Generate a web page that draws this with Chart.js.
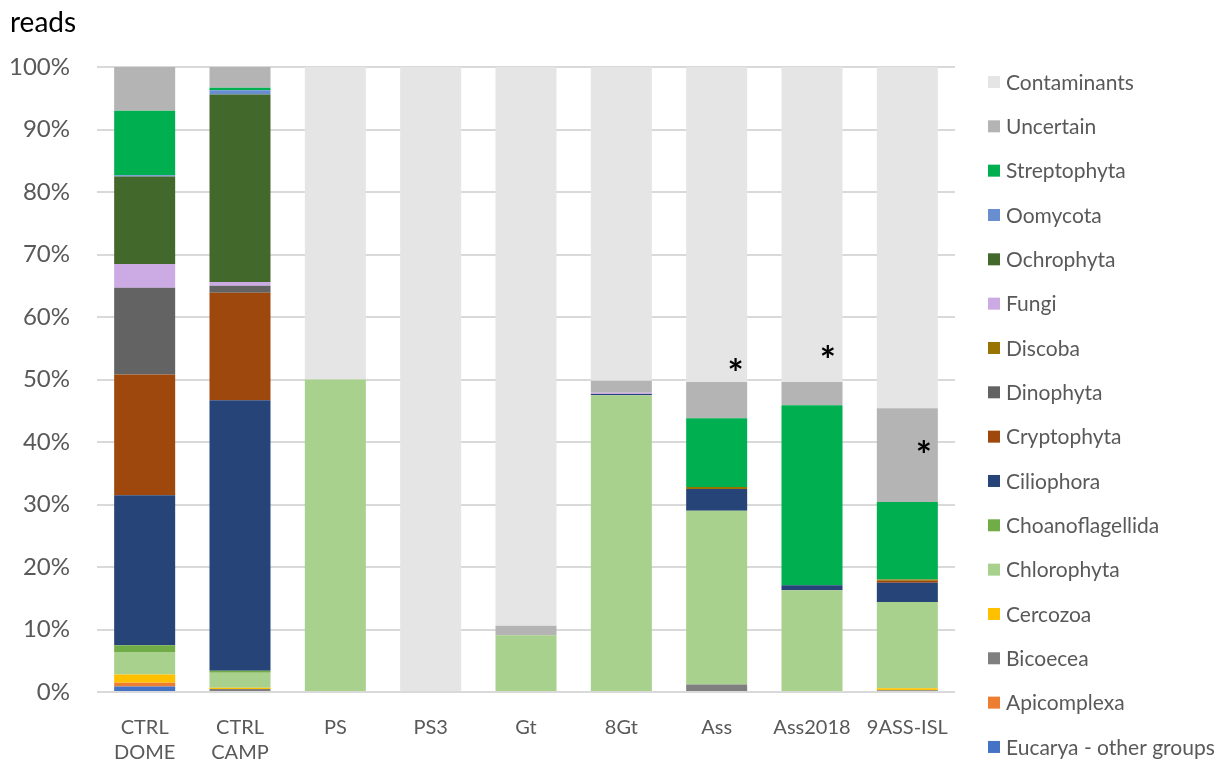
<!DOCTYPE html>
<html>
<head>
<meta charset="utf-8">
<script src="https://cdn.jsdelivr.net/npm/chart.js@4.4.1/dist/chart.umd.min.js"></script>
<style>
  html, body { margin: 0; padding: 0; background: #fff; }
  #wrap { width: 1223px; height: 765px; position: relative; }
</style>
</head>
<body>
<div id="wrap"><canvas id="reads"></canvas></div>
<script>
// Samples along the x axis
const samples = [['CTRL', 'DOME'], ['CTRL', 'CAMP'], 'PS', 'PS3', 'Gt', '8Gt', 'Ass', 'Ass2018', '9ASS-ISL'];

// Share of reads (%) per group, bottom of the stack first
const eucarya      = [0.9, 0,    0,  0,   0,    0,    0,    0,    0];
const apicomplexa  = [0.6, 0,    0,  0,   0,    0,    0,    0,    0];
const bicoecea     = [0,   0.5,  0,  0,   0,    0,    1.2,  0,    0.3];
const cercozoa     = [1.3, 0.2,  0,  0,   0,    0,    0,    0,    0.3];
const chlorophyta  = [3.6, 2.4,  50, 0,   9.1,  47.5, 27.8, 16.3, 13.8];
const choano       = [1.1, 0.3,  0,  0,   0,    0,    0,    0,    0];
const ciliophora   = [24.0, 43.3, 0, 0,   0,    0.2,  3.5,  0.8,  3.1];
const cryptophyta  = [19.3, 17.2, 0, 0,   0,    0,    0,    0,    0.3];
const dinophyta    = [13.9, 1.1, 0,  0,   0,    0,    0,    0,    0];
const discoba      = [0,   0,    0,  0,   0,    0,    0.3,  0,    0.2];
const fungi        = [3.8, 0.6,  0,  0,   0,    0.2,  0,    0,    0];
const ochrophyta   = [14.0, 30.0, 0, 0,   0,    0,    0,    0,    0];
const oomycota     = [0.2, 0.7,  0,  0,   0,    0,    0,    0,    0];
const streptophyta = [10.3, 0.4, 0,  0,   0,    0,    11.0, 28.8, 12.4];
const uncertain    = [7.0, 3.3,  0,  0,   1.5,  1.9,  5.8,  3.7,  15.0];
const contaminants = [0,   0,    50, 100, 89.4, 50.2, 50.4, 50.4, 54.6];

// Asterisk notes: sample index, height in %, horizontal shift as a share of bar width
const stars = [
  { index: 6, value: 52.5, shift: 0.31 },
  { index: 7, value: 54.6, shift: 0.26 },
  { index: 8, value: 39.4, shift: 0.27 }
];

const groups = [
  ['Eucarya - other groups', eucarya, '#4472C4'],
  ['Apicomplexa', apicomplexa, '#ED7D31'],
  ['Bicoecea', bicoecea, '#7F7F7F'],
  ['Cercozoa', cercozoa, '#FFC000'],
  ['Chlorophyta', chlorophyta, '#A9D18E'],
  ['Choanoflagellida', choano, '#70AD47'],
  ['Ciliophora', ciliophora, '#264478'],
  ['Cryptophyta', cryptophyta, '#9E480E'],
  ['Dinophyta', dinophyta, '#636363'],
  ['Discoba', discoba, '#997300'],
  ['Fungi', fungi, '#CCAAE4'],
  ['Ochrophyta', ochrophyta, '#43682B'],
  ['Oomycota', oomycota, '#698ED0'],
  ['Streptophyta', streptophyta, '#00B050'],
  ['Uncertain', uncertain, '#B4B4B4'],
  ['Contaminants', contaminants, '#E5E5E5']
];

const FONT = 'Lato, "Open Sans", sans-serif';
const TEXT = '#595959';

// legend column on the right: top entry first, evenly spaced
const legendBox = { gap: 33, top: 82, step: 44.33, size: 12, textGap: 6 };

const sideLegend = {
  id: 'sideLegend',
  afterDraw(chart) {
    const ctx = chart.ctx;
    const x = chart.chartArea.right + legendBox.gap;
    const items = chart.data.datasets.slice().reverse();
    ctx.save();
    ctx.font = '21px ' + FONT;
    ctx.textBaseline = 'middle';
    ctx.textAlign = 'left';
    items.forEach((ds, i) => {
      const y = legendBox.top + i * legendBox.step;
      ctx.fillStyle = ds.backgroundColor;
      ctx.fillRect(x, y - legendBox.size / 2, legendBox.size, legendBox.size);
      ctx.fillStyle = TEXT;
      ctx.fillText(ds.label, x + legendBox.size + legendBox.textGap, y + 1);
    });
    ctx.restore();
  }
};

const starPlugin = {
  id: 'stars',
  afterDatasetsDraw(chart) {
    const ctx = chart.ctx;
    const y = chart.scales.y;
    const meta = chart.getDatasetMeta(0);
    ctx.save();
    ctx.fillStyle = '#000';
    ctx.font = 'bold 38px ' + FONT;
    ctx.textAlign = 'center';
    ctx.textBaseline = 'middle';
    stars.forEach(s => {
      const bar = meta.data[s.index];
      ctx.fillText('*', bar.x + s.shift * bar.width, y.getPixelForValue(s.value) + 11);
    });
    ctx.restore();
  }
};

new Chart(document.getElementById('reads'), {
  type: 'bar',
  data: {
    labels: samples,
    datasets: groups.map(([label, data, color]) => ({
      label,
      data,
      backgroundColor: color,
      borderWidth: 0,
      barPercentage: 0.64,
      categoryPercentage: 1
    }))
  },
  options: {
    responsive: true,
    maintainAspectRatio: false,
    animation: false,
    layout: { padding: { left: 10, right: 268, top: 0, bottom: 0 } },
    plugins: {
      tooltip: { enabled: false },
      legend: { display: false },
      title: {
        display: true,
        text: 'reads',
        align: 'start',
        color: '#000',
        font: { family: FONT, size: 28, weight: 'normal' },
        padding: { top: 6, bottom: 27.4 }
      }
    },
    scales: {
      x: {
        stacked: true,
        grid: { display: false, drawTicks: false },
        border: { display: false },
        afterFit: scale => { scale.height = 73; },
        ticks: {
          color: TEXT,
          padding: 23,
          font: { family: FONT, size: 20, lineHeight: 1.25 },
          maxRotation: 0,
          autoSkip: false
        }
      },
      y: {
        stacked: true,
        min: 0,
        max: 100,
        border: { display: false },
        grid: { color: '#D9D9D9', lineWidth: 2, drawTicks: false },
        afterFit: scale => { scale.width = 87; },
        ticks: {
          stepSize: 10,
          padding: 27,
          color: TEXT,
          font: { family: FONT, size: 24 },
          callback: v => v + '%'
        }
      }
    }
  },
  plugins: [starPlugin, sideLegend]
});
</script>
</body>
</html>
